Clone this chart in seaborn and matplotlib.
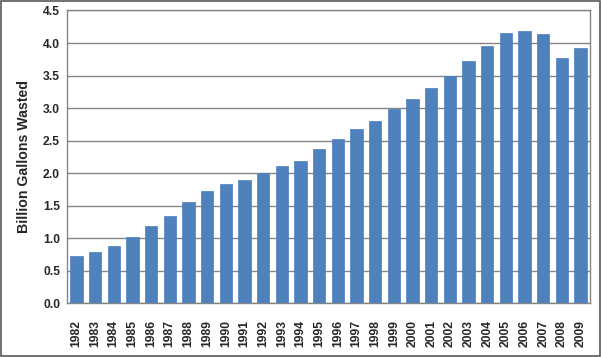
import matplotlib
matplotlib.use("Agg")
import matplotlib.pyplot as plt
import seaborn as sns
import pandas as pd
from matplotlib.patches import Rectangle

years = [str(y) for y in range(1982, 2010)]
gallons = [0.73, 0.79, 0.88, 1.02, 1.19, 1.34, 1.56, 1.73, 1.83, 1.89,
           2.00, 2.11, 2.19, 2.37, 2.52, 2.68, 2.80, 2.99, 3.14, 3.31,
           3.50, 3.72, 3.95, 4.15, 4.18, 4.14, 3.77, 3.92]
y_ticks = [0.0, 0.5, 1.0, 1.5, 2.0, 2.5, 3.0, 3.5, 4.0, 4.5]
y_label = "Billion Gallons Wasted"

df = pd.DataFrame({"year": years, "gallons": gallons})

sns.set_style("white")
plt.rcParams["font.family"] = ["Liberation Sans", "DejaVu Sans"]

fig = plt.figure(figsize=(6.01, 3.57), dpi=100)
ax = fig.add_axes([67 / 601, 1 - 303.3 / 357, 523 / 601, (303.3 - 10.5) / 357])

grid_c = "#868686"
sns.barplot(data=df, x="year", y="gallons", color="#4F81BD", saturation=1,
            width=0.66, edgecolor="#4A7DBA", linewidth=0.5, ax=ax, zorder=3)

ax.set_ylim(0, 4.5)
ax.set_xlim(-0.5, len(years) - 0.5)
ax.set_yticks(y_ticks)
ax.set_yticklabels([f"{v:.1f}" for v in y_ticks], fontsize=8.7, fontweight="bold")
ax.yaxis.grid(True, color=grid_c, linewidth=1, zorder=0)
ax.set_axisbelow(True)

# x ticks at category boundaries, labels at centers
ax.set_xticks([i for i in range(len(years))])
ax.set_xticklabels(years, rotation=90, fontsize=8.7, fontweight="bold")
ax.tick_params(axis="x", length=0, pad=12)
ax.set_xticks([i - 0.5 for i in range(len(years) + 1)], minor=True)
ax.tick_params(axis="x", which="minor", length=4, color=grid_c, width=1, direction="out")
ax.tick_params(axis="y", length=3, color=grid_c, width=1, direction="out", pad=2)

ax.set_xlabel("")
ax.set_ylabel(y_label, fontsize=10.2, fontweight="bold", labelpad=9)

for s in ax.spines.values():
    s.set_color(grid_c)
    s.set_linewidth(1)

fig.patches.append(Rectangle((0.0015, 0.002), 0.997, 0.995, transform=fig.transFigure,
                             fill=False, edgecolor="#595959", linewidth=1.2))

fig.savefig("out.png", dpi=100)
